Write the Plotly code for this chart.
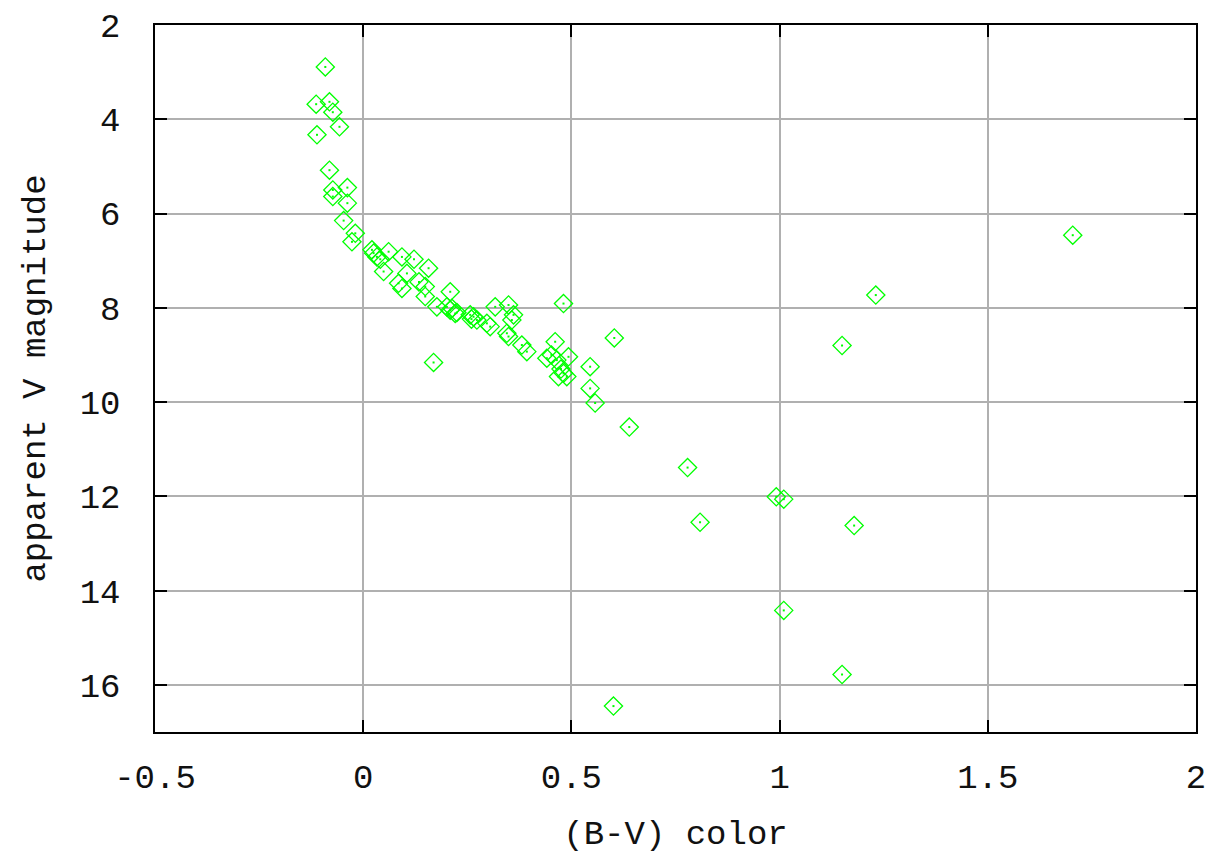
import plotly.graph_objects as go

# (B-V) colour index and apparent V magnitude of the stars
bv_color = [
    -0.091, -0.113, -0.081, -0.073, -0.057, -0.111, -0.081, -0.073, -0.038, -0.073,
    -0.038, -0.047, -0.019, -0.027,
    0.021, 0.025, 0.033, 0.041, 0.061, 0.049, 0.093, 0.122, 0.105, 0.085,
    0.093, 0.134, 0.157, 0.149, 0.149, 0.177, 0.209, 0.201, 0.213, 0.221,
    0.209, 0.225, 0.257, 0.265, 0.273, 0.260, 0.297, 0.305, 0.317, 0.169,
    0.349, 0.361, 0.357, 0.345, 0.349, 0.381, 0.393, 0.481, 0.461, 0.441,
    0.465, 0.452, 0.493, 0.481, 0.489, 0.469, 0.475, 0.545, 0.545, 0.557,
    0.603, 0.639, 0.779, 0.809, 0.992, 1.010, 1.179, 1.010, 1.150, 0.601,
    1.150, 1.231, 1.704,
]
v_magnitude = [
    2.89, 3.68, 3.63, 3.85, 4.16, 4.33, 5.08, 5.50, 5.45, 5.64,
    5.78, 6.15, 6.42, 6.60,
    6.77, 6.84, 6.92, 6.97, 6.81, 7.23, 6.92, 6.97, 7.27, 7.48,
    7.59, 7.45, 7.16, 7.55, 7.76, 7.98, 7.66, 7.98, 8.01, 8.12,
    8.05, 8.10, 8.15, 8.19, 8.26, 8.24, 8.33, 8.40, 7.98, 9.16,
    7.94, 8.15, 8.26, 8.54, 8.61, 8.79, 8.93, 7.91, 8.72, 9.07,
    9.11, 9.00, 9.04, 9.39, 9.46, 9.46, 9.30, 9.25, 9.71, 10.02,
    8.64, 10.53, 11.39, 12.55, 12.01, 12.06, 12.62, 14.42, 15.78, 16.45,
    8.80, 7.73, 6.46,
]

x_ticks = [-0.5, 0, 0.5, 1, 1.5, 2]
x_tick_labels = ["-0.5", "0", "0.5", "1", "1.5", "2"]
y_ticks = [2, 4, 6, 8, 10, 12, 14, 16]
y_tick_labels = ["2", "4", "6", "8", "10", "12", "14", "16"]

GREEN = "#00ff00"
FONT = "Liberation Mono"
FSIZE = 34

fig = go.Figure()
fig.add_trace(go.Scatter(
    x=bv_color, y=v_magnitude, mode="markers", showlegend=False,
    marker=dict(symbol="diamond-open", size=14, color=GREEN,
                line=dict(width=1.3, color=GREEN)),
))
fig.add_trace(go.Scatter(
    x=bv_color, y=v_magnitude, mode="markers", showlegend=False,
    hoverinfo="skip",
    marker=dict(symbol="square", size=2, color=GREEN, line=dict(width=0)),
))

axis_common = dict(
    showgrid=True, gridcolor="#b0b0b0", gridwidth=1.5,
    showline=True, linecolor="black", linewidth=1.5, mirror="ticks",
    ticks="inside", ticklen=12, tickwidth=1.5, tickcolor="black",
    zeroline=False, automargin=False,
    tickfont=dict(family=FONT, size=FSIZE, color="#111111"),
)

fig.update_layout(
    width=1213, height=857,
    margin=dict(l=155, r=17, t=25, b=125, autoexpand=False),
    paper_bgcolor="white", plot_bgcolor="white",
    font=dict(family=FONT, color="#111111"),
    xaxis=dict(
        range=[-0.5, 2], tickvals=x_ticks, ticktext=x_tick_labels,
        ticklabelstandoff=13,
        title=dict(text="(B-V) color", font=dict(family=FONT, size=FSIZE), standoff=24),
        **axis_common,
    ),
    yaxis=dict(
        range=[17, 2], tickvals=y_ticks, ticktext=y_tick_labels,
        ticklabelstandoff=26,
        title=dict(text="apparent V magnitude", font=dict(family=FONT, size=FSIZE), standoff=24),
        **axis_common,
    ),
)

fig.write_html("out.html")
